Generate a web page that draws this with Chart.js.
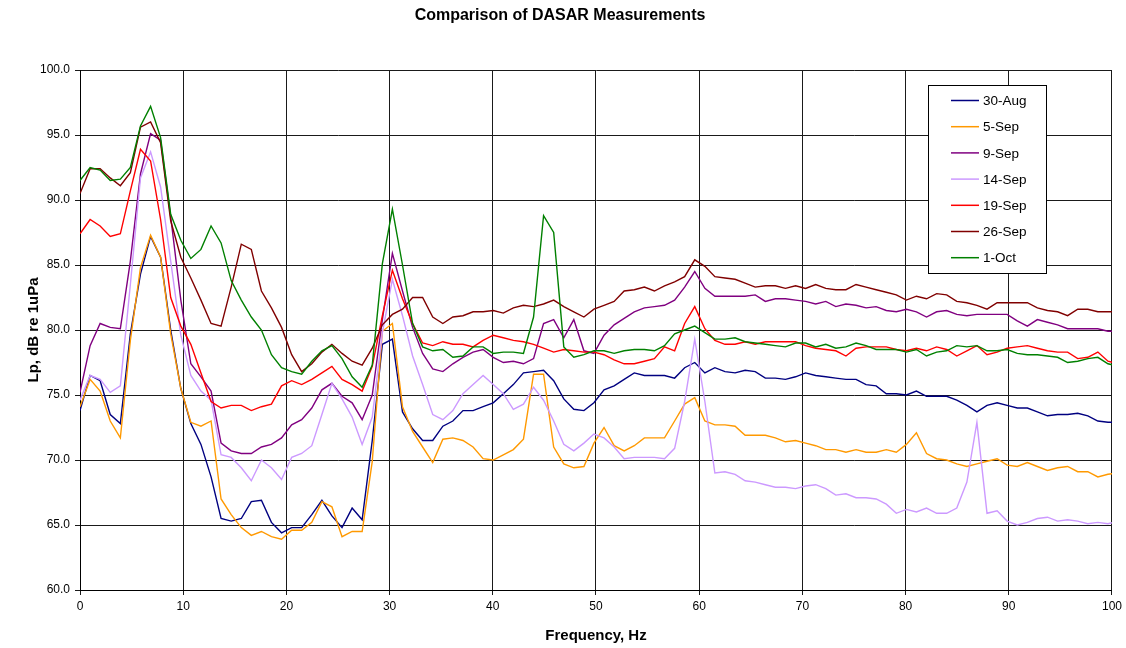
<!DOCTYPE html>
<html>
<head>
<meta charset="utf-8">
<title>Comparison of DASAR Measurements</title>
<script src="https://cdn.jsdelivr.net/npm/chart.js@4.4.1/dist/chart.umd.min.js"></script>
<style>
  html, body { margin: 0; padding: 0; background: #fff; }
  #wrap { width: 1126px; height: 648px; }
</style>
</head>
<body>
<div id="wrap"><canvas id="dasarChart" width="1126" height="648"></canvas></div>
<script>
// frequency bins (Hz), ~0.977 Hz spacing
const freqs = [0, 0.98, 1.95, 2.93, 3.91, 4.88, 5.86, 6.84, 7.81, 8.79, 9.77, 10.74, 11.72, 12.70, 13.67, 14.65, 15.63, 16.60, 17.58, 18.55,
  19.53, 20.51, 21.48, 22.46, 23.44, 24.41, 25.39, 26.37, 27.34, 28.32, 29.30, 30.27, 31.25, 32.23, 33.20, 34.18, 35.16, 36.13, 37.11, 38.09,
  39.06, 40.04, 41.02, 41.99, 42.97, 43.95, 44.92, 45.90, 46.88, 47.85, 48.83, 49.80, 50.78, 51.76, 52.73, 53.71, 54.69, 55.66, 56.64, 57.62,
  58.59, 59.57, 60.55, 61.52, 62.50, 63.48, 64.45, 65.43, 66.41, 67.38, 68.36, 69.34, 70.31, 71.29, 72.27, 73.24, 74.22, 75.20, 76.17, 77.15,
  78.13, 79.10, 80.08, 81.05, 82.03, 83.01, 83.98, 84.96, 85.94, 86.91, 87.89, 88.87, 89.84, 90.82, 91.80, 92.77, 93.75, 94.73, 95.70, 96.68,
  97.66, 98.63, 99.61, 100.59];

const seriesLabels = ['30-Aug', '5-Sep', '9-Sep', '14-Sep', '19-Sep', '26-Sep', '1-Oct'];
const seriesColors = ['#000080', '#ff9900', '#800080', '#cc99ff', '#ff0000', '#800000', '#008000'];

const aug30 = [73.8, 76.5, 76.1, 73.5, 72.8, 79.7, 84.3, 87.2, 85.6, 80.0, 75.5, 72.8, 71.2, 68.7, 65.5, 65.3, 65.5, 66.8, 66.9, 65.2,
  64.4, 64.8, 64.8, 65.8, 66.9, 65.7, 64.8, 66.3, 65.4, 71.5, 78.9, 79.3, 73.7, 72.4, 71.5, 71.5, 72.6, 73.0, 73.8, 73.8,
  74.1, 74.4, 75.1, 75.8, 76.7, 76.8, 76.9, 76.1, 74.7, 73.9, 73.8, 74.4, 75.4, 75.7, 76.2, 76.7, 76.5, 76.5, 76.5, 76.3,
  77.1, 77.5, 76.7, 77.1, 76.8, 76.7, 76.9, 76.8, 76.3, 76.3, 76.2, 76.4, 76.7, 76.5, 76.4, 76.3, 76.2, 76.2, 75.8, 75.7,
  75.1, 75.1, 75.0, 75.3, 74.9, 74.9, 74.9, 74.6, 74.2, 73.7, 74.2, 74.4, 74.2, 74.0, 74.0, 73.7, 73.4, 73.5, 73.5, 73.6,
  73.4, 73.0, 72.9, 72.9];

const sep5 = [74.1, 76.2, 75.3, 73.0, 71.7, 79.2, 84.8, 87.3, 85.6, 79.7, 75.5, 72.9, 72.6, 73.0, 67.0, 65.8, 64.8, 64.2, 64.5, 64.1,
  63.9, 64.6, 64.6, 65.2, 66.8, 66.4, 64.1, 64.5, 64.5, 69.9, 79.9, 80.5, 74.1, 72.2, 71.0, 69.8, 71.6, 71.7, 71.5, 71.0,
  70.1, 70.0, 70.4, 70.8, 71.6, 76.6, 76.6, 71.0, 69.7, 69.4, 69.5, 71.3, 72.5, 71.1, 70.7, 71.1, 71.7, 71.7, 71.7, 73.0,
  74.3, 74.8, 73.0, 72.7, 72.7, 72.6, 71.9, 71.9, 71.9, 71.7, 71.4, 71.5, 71.3, 71.1, 70.8, 70.8, 70.6, 70.8, 70.6, 70.6,
  70.8, 70.6, 71.2, 72.1, 70.5, 70.1, 70.0, 69.7, 69.5, 69.7, 69.9, 70.1, 69.6, 69.5, 69.8, 69.5, 69.2, 69.4, 69.5, 69.1,
  69.1, 68.7, 68.9, 69.0];

const sep9 = [75.2, 78.8, 80.5, 80.2, 80.1, 85.3, 92.0, 95.1, 94.6, 88.7, 82.3, 77.4, 76.4, 75.3, 71.3, 70.7, 70.5, 70.5, 71.0, 71.2,
  71.7, 72.7, 73.1, 74.0, 75.4, 75.9, 74.9, 74.4, 73.1, 75.0, 80.8, 85.9, 83.0, 80.2, 78.2, 77.0, 76.8, 77.4, 77.9, 78.3,
  78.5, 77.9, 77.5, 77.6, 77.4, 77.8, 80.5, 80.8, 79.4, 80.8, 78.4, 78.2, 79.6, 80.4, 80.9, 81.4, 81.7, 81.8, 81.9, 82.3,
  83.3, 84.5, 83.2, 82.6, 82.6, 82.6, 82.6, 82.7, 82.2, 82.4, 82.4, 82.3, 82.2, 82.0, 82.2, 81.8, 82.0, 81.9, 81.7, 81.8,
  81.5, 81.4, 81.6, 81.4, 81.0, 81.4, 81.5, 81.2, 81.1, 81.2, 81.2, 81.2, 81.2, 80.7, 80.3, 80.8, 80.6, 80.4, 80.1, 80.1,
  80.1, 80.1, 79.9, 79.9];

const sep14 = [74.6, 76.5, 76.2, 75.2, 75.7, 83.5, 91.7, 93.7, 91.0, 85.3, 79.6, 76.5, 75.3, 74.6, 70.4, 70.2, 69.4, 68.4, 70.0, 69.4,
  68.5, 70.2, 70.5, 71.1, 73.5, 75.9, 74.7, 73.3, 71.2, 73.3, 79.8, 83.9, 81.1, 78.0, 75.8, 73.5, 73.1, 73.8, 75.1, 75.8,
  76.5, 75.8, 75.1, 73.9, 74.3, 75.6, 74.6, 73.0, 71.2, 70.7, 71.3, 72.0, 71.7, 71.0, 70.1, 70.2, 70.2, 70.2, 70.1, 70.9,
  74.5, 79.3, 74.5, 69.0, 69.1, 68.9, 68.4, 68.3, 68.1, 67.9, 67.9, 67.8, 68.0, 68.1, 67.8, 67.3, 67.4, 67.1, 67.1, 67.0,
  66.6, 65.9, 66.2, 66.0, 66.3, 65.9, 65.9, 66.3, 68.3, 72.9, 65.9, 66.1, 65.3, 65.0, 65.2, 65.5, 65.6, 65.3, 65.4, 65.3,
  65.1, 65.2, 65.1, 65.3];

const sep19 = [87.4, 88.5, 88.0, 87.2, 87.4, 90.7, 93.9, 93.0, 88.5, 82.5, 80.3, 78.9, 76.7, 74.5, 74.0, 74.2, 74.2, 73.8, 74.1, 74.3,
  75.7, 76.1, 75.8, 76.2, 76.7, 77.2, 76.2, 75.8, 75.3, 77.2, 81.1, 84.6, 82.4, 80.5, 79.0, 78.8, 79.1, 78.9, 78.9, 78.7,
  79.2, 79.6, 79.4, 79.2, 79.1, 78.9, 78.6, 78.3, 78.5, 78.4, 78.3, 78.3, 78.1, 77.7, 77.4, 77.4, 77.6, 77.8, 78.7, 78.4,
  80.5, 81.8, 80.1, 79.2, 78.9, 78.9, 79.1, 78.9, 79.1, 79.1, 79.1, 79.1, 78.8, 78.6, 78.5, 78.4, 78.0, 78.6, 78.7, 78.7,
  78.7, 78.5, 78.4, 78.6, 78.4, 78.7, 78.5, 78.0, 78.4, 78.8, 78.1, 78.3, 78.6, 78.7, 78.8, 78.6, 78.4, 78.3, 78.3, 77.8,
  77.9, 78.3, 77.6, 77.4];

const sep26 = [90.5, 92.4, 92.4, 91.7, 91.1, 92.1, 95.6, 96.0, 94.4, 88.4, 85.6, 84.0, 82.3, 80.5, 80.3, 83.3, 86.6, 86.2, 83.0, 81.7,
  80.2, 78.1, 76.8, 77.4, 78.3, 78.9, 78.2, 77.6, 77.3, 78.6, 80.4, 81.2, 81.6, 82.5, 82.5, 81.0, 80.5, 81.0, 81.1, 81.4,
  81.4, 81.5, 81.3, 81.7, 81.9, 81.8, 82.0, 82.3, 81.8, 81.4, 81.0, 81.6, 81.9, 82.2, 83.0, 83.1, 83.3, 83.0, 83.4, 83.7,
  84.1, 85.4, 84.9, 84.1, 84.0, 83.9, 83.6, 83.3, 83.4, 83.4, 83.2, 83.4, 83.2, 83.5, 83.2, 83.1, 83.1, 83.5, 83.3, 83.1,
  82.9, 82.7, 82.3, 82.6, 82.4, 82.8, 82.7, 82.2, 82.1, 81.9, 81.6, 82.1, 82.1, 82.1, 82.1, 81.7, 81.5, 81.4, 81.1, 81.6,
  81.6, 81.4, 81.4, 81.4];

const oct1 = [91.5, 92.5, 92.3, 91.5, 91.6, 92.5, 95.7, 97.2, 94.8, 88.9, 86.9, 85.5, 86.2, 88.0, 86.7, 83.8, 82.3, 81.0, 80.0, 78.1,
  77.1, 76.8, 76.6, 77.6, 78.4, 78.8, 77.8, 76.4, 75.6, 77.3, 85.1, 89.3, 85.0, 80.5, 78.7, 78.4, 78.5, 77.9, 78.0, 78.7,
  78.7, 78.2, 78.3, 78.3, 78.2, 81.0, 88.8, 87.5, 78.7, 77.9, 78.1, 78.4, 78.4, 78.2, 78.4, 78.5, 78.5, 78.4, 78.8, 79.7,
  80.0, 80.3, 79.8, 79.3, 79.3, 79.4, 79.1, 79.0, 78.9, 78.8, 78.7, 79.0, 79.0, 78.7, 78.9, 78.6, 78.7, 79.0, 78.8, 78.5,
  78.5, 78.5, 78.3, 78.5, 78.0, 78.3, 78.4, 78.8, 78.7, 78.8, 78.4, 78.4, 78.5, 78.2, 78.1, 78.1, 78.0, 77.9, 77.5, 77.6,
  77.8, 77.9, 77.4, 77.2];

const yTicks = [60, 65, 70, 75, 80, 85, 90, 95, 100];
const xTicks = [0, 10, 20, 30, 40, 50, 60, 70, 80, 90, 100];

const allSeries = [aug30, sep5, sep9, sep14, sep19, sep26, oct1];
const FONT = '"Liberation Sans", Arial, Helvetica, sans-serif';

// title + legend box drawn by hand, the way excel places them
const excelDecor = {
    id: 'excelDecor',
    afterDraw(chart) {
        const ctx = chart.ctx;
        ctx.save();
        ctx.fillStyle = '#000';
        ctx.font = 'bold 16px ' + FONT;
        ctx.textAlign = 'center';
        ctx.textBaseline = 'middle';
        ctx.fillText('Comparison of DASAR Measurements', 560, 16);

        // legend
        const bx = 928.5, by = 85.5, bw = 118, bh = 188;
        ctx.fillStyle = '#fff';
        ctx.fillRect(bx, by, bw, bh);
        ctx.strokeStyle = '#000';
        ctx.lineWidth = 1;
        ctx.strokeRect(bx, by, bw, bh);
        ctx.font = '13.5px ' + FONT;
        ctx.textAlign = 'left';
        chart.data.datasets.forEach((ds, i) => {
            const y = 100.5 + i * 26.2;
            ctx.strokeStyle = ds.borderColor;
            ctx.lineWidth = 1.5;
            ctx.beginPath();
            ctx.moveTo(951, y);
            ctx.lineTo(979, y);
            ctx.stroke();
            ctx.fillStyle = '#000';
            ctx.fillText(ds.label, 983, y + 1);
        });
        ctx.restore();
    }
};

const ctx = document.getElementById('dasarChart').getContext('2d');
const dasarChart = new Chart(ctx, {
    type: 'line',
    data: {
        datasets: allSeries.map((vals, i) => ({
            label: seriesLabels[i],
            data: freqs.map((f, j) => ({ x: f, y: vals[j] })),
            borderColor: seriesColors[i],
            backgroundColor: seriesColors[i],
            borderWidth: 1.4,
            pointRadius: 0,
            tension: 0,
            fill: false,
            order: -i // later series on top, as in excel
        }))
    },
    options: {
        responsive: false,
        animation: false,
        events: [],
        layout: { padding: { top: 70, right: 14, left: 0, bottom: 0 } },
        plugins: {
            legend: { display: false },
            title: { display: false },
            tooltip: { enabled: false }
        },
        scales: {
            x: {
                type: 'linear',
                min: 0,
                max: 100,
                afterFit: (s) => { s.height = 58; },
                afterBuildTicks: (s) => { s.ticks = xTicks.map(v => ({ value: v })); },
                ticks: {
                    color: '#000',
                    font: { family: FONT, size: 12 },
                    padding: 4,
                    maxRotation: 0
                },
                grid: { color: '#1a1a1a', lineWidth: 1, tickLength: 5 },
                border: { color: '#000' },
                title: {
                    display: true,
                    text: 'Frequency, Hz',
                    color: '#000',
                    font: { family: FONT, size: 15, weight: 'bold' },
                    padding: { top: 0, bottom: 3 }
                }
            },
            y: {
                type: 'linear',
                min: 60,
                max: 100,
                afterFit: (s) => { s.width = 80; },
                afterBuildTicks: (s) => { s.ticks = yTicks.map(v => ({ value: v })); },
                ticks: {
                    color: '#000',
                    font: { family: FONT, size: 12 },
                    padding: 5,
                    callback: (v) => Number(v).toFixed(1)
                },
                grid: { color: '#1a1a1a', lineWidth: 1, tickLength: 5 },
                border: { color: '#000' },
                title: {
                    display: true,
                    text: 'Lp, dB re 1uPa',
                    color: '#000',
                    font: { family: FONT, size: 15, weight: 'bold' },
                    padding: { top: 25, bottom: 0 }
                }
            }
        }
    },
    plugins: [excelDecor]
});
</script>
</body>
</html>
